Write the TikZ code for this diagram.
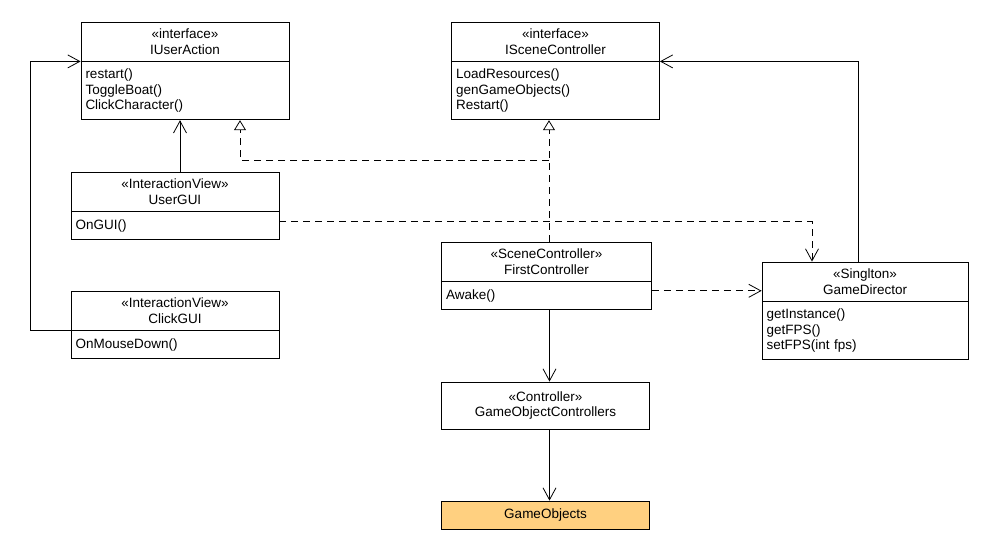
\documentclass[tikz,border=0pt]{standalone}
\usepackage{fontspec}
\setmainfont{Liberation Sans}
\usetikzlibrary{arrows.meta,positioning,calc}
\definecolor{objfill}{RGB}{255,208,128}
\tikzstyle{every node}+=[font=\fontsize{13.5}{15.5}\selectfont,line width=0.8pt]
\tikzstyle{every path}+=[line width=0.8pt]
\tikzstyle{head}=[draw,minimum width=208pt,minimum height=39pt,align=center,inner sep=0pt]
\tikzstyle{body}=[draw,text width=199pt,align=left,inner xsep=4.5pt,inner ysep=0pt,below=0pt of #1]
\tikzstyle{assoc}=[-{Straight Barb[length=12pt,width=13pt]}]
\tikzstyle{dep}=[assoc,dash pattern=on 7pt off 5pt]
\tikzstyle{real}=[-{Triangle[open,length=10pt,width=12pt]},dash pattern=on 7pt off 5pt]

\begin{document}
\begin{tikzpicture}[x=1pt,y=-1pt]
\useasboundingbox (0,0) rectangle (990,550);

\node[head] (ua) at (185,41.5) {«interface»\\IUserAction};
\node[body=ua,minimum height=58pt] (uab) {restart()\\ToggleBoat()\\ClickCharacter()};

\node[head] (sc) at (555.5,41.5) {«interface»\\ISceneController};
\node[body=sc,minimum height=58pt] (scb) {LoadResources()\\genGameObjects()\\Restart()};

\node[head] (ugui) at (175,191.5) {«InteractionView»\\UserGUI};
\node[body=ugui,minimum height=28pt] (uguib) {OnGUI()};

\node[head] (cgui) at (175,310.5) {«InteractionView»\\ClickGUI};
\node[body=cgui,minimum height=28pt] (cguib) {OnMouseDown()};

\node[head,minimum width=210pt] (fc) at (546.5,261.5) {«SceneController»\\FirstController};
\node[body=fc,text width=201pt,minimum height=28pt] (fcb) {Awake()};

\node[head,minimum width=206pt] (gd) at (865,281.5) {«Singlton»\\GameDirector};
\node[body=gd,text width=197pt,minimum height=58pt] (gdb) {getInstance()\\getFPS()\\setFPS(int fps)};

\node[head,minimum height=47pt] (goc) at (545.5,405.5) {«Controller»\\GameObjectControllers};
\node[head,fill=objfill,minimum height=28pt] (go) at (545.5,515) {GameObjects};

\coordinate (fork) at (549,160);

\draw[assoc] ([xshift=5pt]ugui.north) -- ([xshift=5pt]ugui.north |- uab.south);
\draw[assoc] (cgui.south west) -- ++(-40,0) |- (ua.south west);
\draw[real] ([xshift=2.5pt]fc.north) -- ([xshift=2.5pt]fc.north |- scb.south);
\draw[real] (fork) -| ([xshift=55pt]uab.south);
\draw[dep] ([yshift=4pt]uguib.east) -| ([xshift=-53pt]gd.north);
\draw[dep] ([yshift=5pt]fcb.east) -- ([yshift=5pt]fcb.east -| gd.west);
\draw[assoc] ([xshift=-7pt]gd.north) |- (sc.south east);
\draw[assoc] ([xshift=3pt]fcb.south) -- ([xshift=3pt]fcb.south |- goc.north);
\draw[assoc] ([xshift=4pt]goc.south) -- ([xshift=4pt]go.north);
\end{tikzpicture}
\end{document}
